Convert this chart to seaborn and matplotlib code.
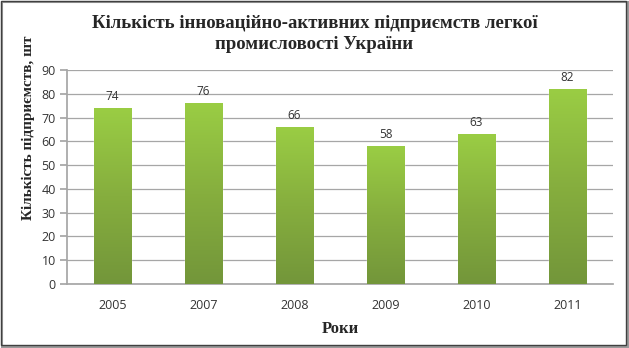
import numpy as np
import pandas as pd
import matplotlib
matplotlib.use("Agg")
import matplotlib.pyplot as plt
import seaborn as sns
from matplotlib.colors import LinearSegmentedColormap
from matplotlib.patches import Rectangle

years = ["2005", "2007", "2008", "2009", "2010", "2011"]
counts = [74, 76, 66, 58, 63, 82]
yticks = [0, 10, 20, 30, 40, 50, 60, 70, 80, 90]

title = "Кількість інноваційно-активних підприємств легкої\nпромисловості України"
ylabel = "Кількість підприємств, шт"
xlabel = "Роки"

sns.set_theme(style="white")
plt.rcParams['font.family'] = ['Open Sans', 'DejaVu Sans']

df = pd.DataFrame({"year": years, "count": counts})

fig = plt.figure(figsize=(6.29, 3.48), dpi=100)
ax = fig.add_axes([67/629, 1 - 284/348, (613 - 67)/629, (284 - 70)/348])

sns.barplot(data=df, x="year", y="count", ax=ax, color="#8DB843", width=0.41,
            saturation=1, zorder=2)

cmap = LinearSegmentedColormap.from_list("g", ["#73963A", "#86AE3E", "#9ACD44"])
grad = np.linspace(0, 1, 256).reshape(-1, 1)
for p in ax.patches:
    x0, y0 = p.get_x(), p.get_y()
    w, h = p.get_width(), p.get_height()
    im = ax.imshow(grad, cmap=cmap, origin="lower", aspect="auto",
                   extent=[x0, x0 + w, y0, y0 + h], zorder=3)
    im.set_clip_path(p)
    ax.text(x0 + w / 2, h + 2.2, f"{int(h)}", ha="center", va="bottom",
            fontsize=8.5, color="#333333", zorder=4)

ax.set_xlim(-0.5, len(years) - 0.5)
ax.set_ylim(0, 90)
ax.set_yticks(yticks)
ax.yaxis.grid(True, color="#A6A6A6", linewidth=0.9, zorder=0)
ax.set_axisbelow(True)
for s in ["top", "right"]:
    ax.spines[s].set_visible(False)
ax.spines["left"].set_color("#A6A6A6")
ax.spines["bottom"].set_color("#A6A6A6")
ax.tick_params(axis="y", which="both", left=True, length=5, color="#A6A6A6",
               labelsize=9, labelcolor="#333333", pad=3)
ax.tick_params(axis="x", bottom=False, labelsize=9, labelcolor="#333333", pad=5)
ax.set_xlabel(xlabel, fontsize=12, fontweight="bold", family="Liberation Serif",
              labelpad=6)
ax.set_ylabel("")
fig.text(28/629, 1 - 128/348, ylabel, rotation=90, ha="center", va="center",
         fontsize=11, fontweight="bold", family="Liberation Serif")

fig.text(0.5, 1 - 34/348, title, ha="center", va="center", fontsize=13.5,
         fontweight="bold", family="Liberation Serif", linespacing=1.25)

fig.patches.append(Rectangle((1.5/629, 1.5/348), 626/629, 345/348, transform=fig.transFigure,
                             facecolor="none", edgecolor="#9A9A9A", linewidth=1.5, zorder=0))
fig.patches.append(Rectangle((0.5/629, 3/348), 625/629, 344.5/348, transform=fig.transFigure,
                             facecolor="none", edgecolor="#404040", linewidth=1, zorder=1))

fig.savefig("out.png", dpi=100)
